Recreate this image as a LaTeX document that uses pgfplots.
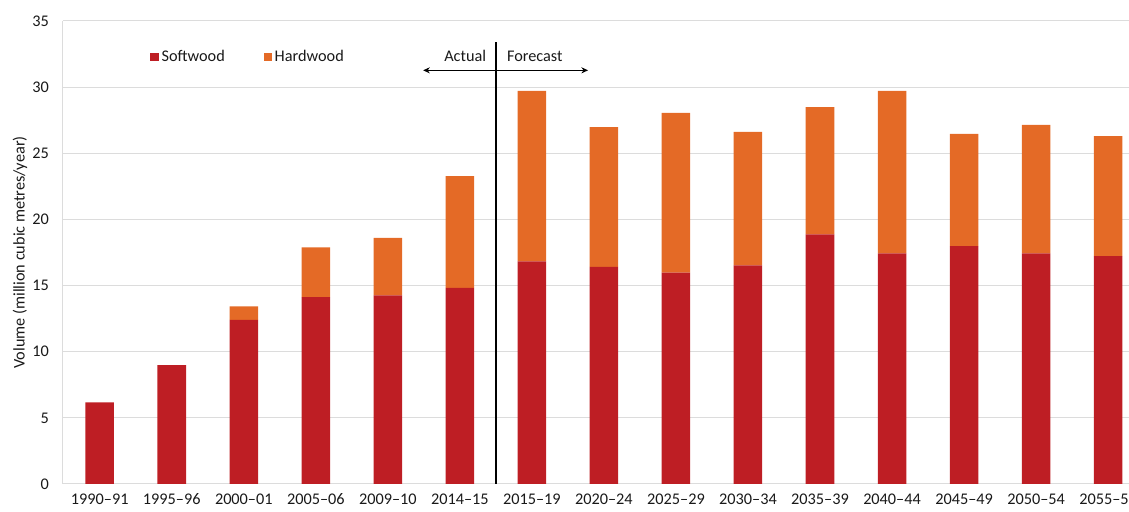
\documentclass[border=0pt]{standalone}
\usepackage{pgfplots}
\usepackage{pgfplotstable}
\pgfplotsset{compat=1.18}
\usetikzlibrary{arrows.meta}
\usepackage{fontspec}
\setmainfont{Carlito}
\definecolor{soft}{RGB}{190,30,36}
\definecolor{hard}{RGB}{228,106,38}
\definecolor{gridc}{RGB}{220,220,220}
\pgfplotstableread{
x soft hard
0 6.17 0
1 8.99 0
2 12.41 1.01
3 14.13 3.75
4 14.25 4.36
5 14.83 8.44
6 16.82 12.90
7 16.42 10.55
8 15.97 12.08
9 16.52 10.10
10 18.86 9.62
11 17.43 12.29
12 17.98 8.49
13 17.43 9.72
14 17.22 9.07
}\datatable
\begin{document}
\begin{tikzpicture}
\begin{axis}[
  scale only axis, width=799.5pt, height=347.25pt,
  ybar stacked, bar width=21.4pt,
  xmin=-0.51, xmax=14.29, ymin=0, ymax=35,
  xtick=data,
  xticklabels={1990–91,1995–96,2000–01,2005–06,2009–10,2014–15,2015–19,2020–24,2025–29,2030–34,2035–39,2040–44,2045–49,2050–54,2055–59},
  ytick={0,5,...,35},
  ymajorgrids, grid style={gridc, line width=0.75pt},
  axis y line*=left, axis x line*=bottom,
  axis line style={gridc, line width=0.75pt},
  major tick length=0pt,
  tick label style={font=\fontsize{12.2}{14}\selectfont, text=black!90},
  /pgf/number format/assume math mode=true,
  yticklabel style={xshift=-7pt},
  xticklabel style={anchor=north, text height=8.6pt, text depth=2.4pt, yshift=-3pt},
  ylabel={Volume (million cubic metres/year)},
  ylabel style={font=\fontsize{12.2}{14}\selectfont, text=black!90, at={(axis description cs:-0.0403,0.5)}, anchor=center},
  legend image code/.code={\fill[#1] (0pt,-3.2pt) rectangle (6.4pt,3.2pt);},
  legend style={at={(axis description cs:0.078,0.922)}, anchor=west, draw=none, fill=none,
    legend columns=2, font=\fontsize{12.2}{14}\selectfont, text=black!90,
    /tikz/every even column/.append style={column sep=27pt}},
  legend cell align=left,
]
\addplot[fill=soft, draw=none] table[x=x, y=soft] {\datatable};
\addplot[fill=hard, draw=none] table[x=x, y=hard] {\datatable};
\legend{Softwood, Hardwood}
\draw[black, line width=1.5pt] (axis cs:5.5,0) -- (axis cs:5.5,33.4);
\draw[{Stealth[length=5pt,width=4.5pt]}-{Stealth[length=5pt,width=4.5pt]}, line width=1.1pt] (axis cs:4.49,31.27) -- (axis cs:6.78,31.27);
\node[anchor=east, font=\fontsize{12.2}{14}\selectfont, text=black!90] at (axis cs:5.43,32.33) {Actual};
\node[anchor=west, font=\fontsize{12.2}{14}\selectfont, text=black!90] at (axis cs:5.59,32.33) {Forecast};
\end{axis}
\pgfresetboundingbox
\useasboundingbox ([shift={(-47.25pt,-21pt)}]current axis.south west) rectangle ([shift={(0pt,15.75pt)}]current axis.north east);
\end{tikzpicture}
\end{document}
